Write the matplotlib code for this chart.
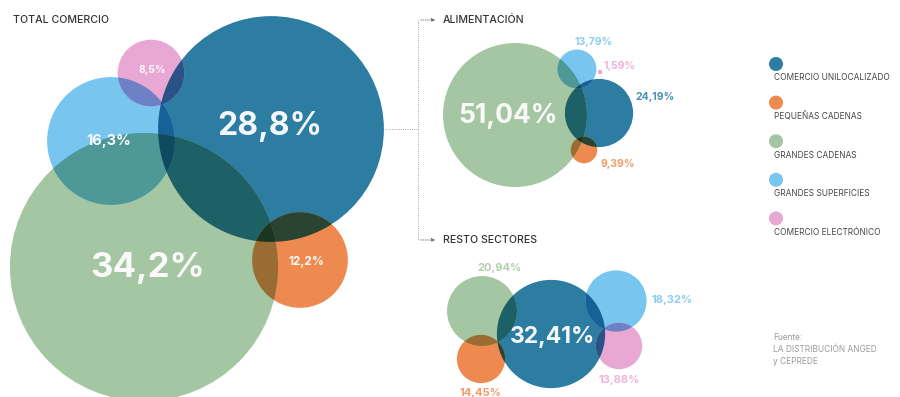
import itertools
import numpy as np
import matplotlib
matplotlib.use("Agg")
import matplotlib.pyplot as plt
from matplotlib.patches import Circle, Polygon

plt.rcParams['font.family'] = ['Inter', 'DejaVu Sans']

# Datos ---------------------------------------------------------------
categorias = ['COMERCIO UNILOCALIZADO', 'PEQUEÑAS CADENAS', 'GRANDES CADENAS',
              'GRANDES SUPERFICIES', 'COMERCIO ELECTRÓNICO']
total_comercio = [28.8, 12.2, 34.2, 16.3, 8.5]
alimentacion = [24.19, 9.39, 51.04, 13.79, 1.59]
resto_sectores = [32.41, 14.45, 20.94, 18.32, 13.88]

colores = ['#2d7da2', '#ee8a4f', '#a5c6a2', '#78c5ef', '#e9a7d3']

# Disposición (px) ----------------------------------------------------
grupos = [
    dict(valores=total_comercio, dec=1, escala=3.92,
         centros=[(271, 129), (300, 260), (144, 267), (111, 141), (151, 73)],
         etiquetas=[(270, 126, 23, 'w'), (306, 262, 8.5, 'w'), (148, 268, 25, 'w'),
                    (109, 141, 10.5, 'w'), (152, 70, 7.5, 'w')]),
    dict(valores=alimentacion, dec=2, escala=1.41,
         centros=[(599, 113), (584, 150), (515, 115), (577, 69), (600, 72)],
         etiquetas=[(655, 97, 7.5, 'c'), (618, 164, 7.5, 'c'), (508, 116, 19, 'w'),
                    (594, 42, 7.5, 'c'), (620, 66, 7.5, 'c')]),
    dict(valores=resto_sectores, dec=2, escala=1.67,
         centros=[(551, 334), (481, 359), (482, 311), (616, 301), (619, 346)],
         etiquetas=[(553, 337, 16.5, 'w'), (480, 393, 8, 'c'), (500, 268, 8, 'c'),
                    (672, 300, 8, 'c'), (619, 380, 8, 'c')]),
]


def interseccion(circs, n=900):
    # poligono convexo de la interseccion de varios circulos
    pts = []
    t = np.linspace(0, 2 * np.pi, n, endpoint=False)
    for i, (cx, cy, r) in enumerate(circs):
        p = np.column_stack([cx + r * np.cos(t), cy + r * np.sin(t)])
        ok = np.ones(n, bool)
        for j, (ox, oy, orr) in enumerate(circs):
            if j != i:
                ok &= np.hypot(p[:, 0] - ox, p[:, 1] - oy) <= orr + 1e-9
        pts.append(p[ok])
    pts = np.vstack(pts)
    if len(pts) < 3:
        return None
    c = pts.mean(axis=0)
    ang = np.arctan2(pts[:, 1] - c[1], pts[:, 0] - c[0])
    return pts[np.argsort(ang)]


fig = plt.figure(figsize=(9, 3.97), dpi=100)
ax = fig.add_axes([0, 0, 1, 1])
ax.set_xlim(0, 900)
ax.set_ylim(397, 0)
ax.axis('off')

rgb = [np.array(matplotlib.colors.to_rgb(c)) for c in colores]

for g in grupos:
    circs = [(cx, cy, v * g['escala']) for (cx, cy), v in zip(g['centros'], g['valores'])]
    idx = range(len(circs))
    # mezcla tipo "multiply" en las zonas superpuestas
    for k in range(1, len(circs) + 1):
        for sub in itertools.combinations(idx, k):
            col = np.prod([rgb[i] for i in sub], axis=0)
            if k == 1:
                cx, cy, r = circs[sub[0]]
                ax.add_patch(Circle((cx, cy), r, color=col, lw=0))
                continue
            poly = interseccion([circs[i] for i in sub])
            if poly is not None:
                ax.add_patch(Polygon(poly, closed=True, color=col, lw=0))
    for i, (x, y, fs, modo) in enumerate(g['etiquetas']):
        txt = f"{g['valores'][i]:.{g['dec']}f}%".replace('.', ',')
        col = 'white' if modo == 'w' else colores[i]
        ax.text(x, y, txt, ha='center', va='center', fontsize=fs,
                fontweight='bold', color=col, alpha=0.95 if modo == 'w' else 0.85)

# Titulos y conectores ---------------------------------------------------
ax.text(13, 20, 'TOTAL COMERCIO', fontsize=7.6, color='#333333',
        fontweight='medium', va='center')
ax.text(443, 20, 'ALIMENTACIÓN', fontsize=7.6, color='#333333',
        fontweight='medium', va='center')
ax.text(443, 240, 'RESTO SECTORES', fontsize=7.6, color='#333333',
        fontweight='medium', va='center')

ax.plot([385, 418], [129, 129], color='#888888', lw=0.6, ls=':')
ax.plot([418, 418], [20, 240], color='#888888', lw=0.6, ls=':')
for y in (20, 240):
    ax.annotate('', xy=(438, y), xytext=(418, y),
                arrowprops=dict(arrowstyle='-|>', color='#666666', lw=0.6,
                                linestyle=':', mutation_scale=5))

# Leyenda -----------------------------------------------------------------
for i, cat in enumerate(categorias):
    ax.add_patch(Circle((776, 64 + i * 38.6), 7, color=colores[i], lw=0))
    ax.text(774, 78 + i * 38.6, cat, fontsize=6, color='#444444', va='center')

ax.text(773, 337, 'Fuente:', fontsize=6, color='#999999', va='center')
ax.text(773, 349, 'LA DISTRIBUCIÓN ANGED', fontsize=6, color='#999999', va='center')
ax.text(773, 361, 'y CEPREDE', fontsize=6, color='#999999', va='center')

fig.savefig('out.png', dpi=100)
